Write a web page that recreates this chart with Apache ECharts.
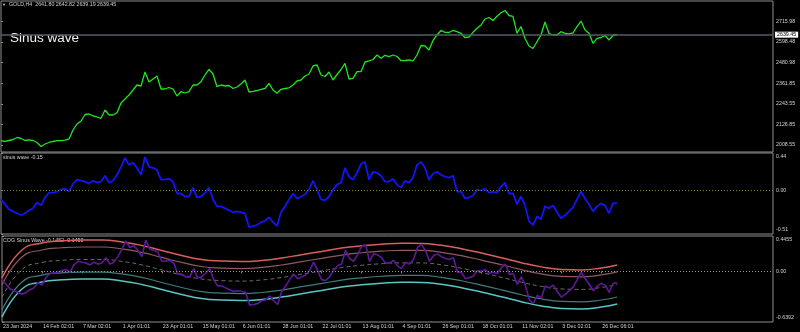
<!DOCTYPE html>
<html><head><meta charset="utf-8">
<script src="https://cdn.jsdelivr.net/npm/echarts@6/dist/echarts.min.js"></script>
<style>html,body{margin:0;padding:0;background:#000}#c{width:800px;height:332px}</style>
</head><body><div id="c"></div>
<script>
const timeLabels = ["23 Jan 2024","14 Feb 02:01","7 Mar 02:01","1 Apr 01:01","23 Apr 01:01","15 May 01:01","6 Jun 01:01","28 Jun 01:01","22 Jul 01:01","13 Aug 01:01","4 Sep 01:01","26 Sep 01:01","18 Oct 01:01","11 Nov 02:01","3 Dec 02:01","26 Dec 06:01"];

const priceValues = [2033.2,2028.6,2034.3,2040.0,2051.5,2045.7,2034.3,2038.3,2034.3,2022.9,
2000.0,2014.3,2022.9,2028.6,2033.2,2033.2,2036.0,2042.9,2094.3,2128.7,
2145.8,2183.0,2185.8,2175.6,2168.7,2161.3,2208.7,2180.1,2180.1,2193.3,
2248.8,2271.6,2294.5,2323.1,2351.7,2346.0,2426.0,2368.9,2386.0,2403.2,
2328.8,2328.8,2337.4,2328.8,2288.8,2313.4,2305.9,2313.4,2351.7,2351.7,
2370.6,2408.9,2441.5,2414.6,2342.0,2351.7,2346.0,2348.8,2331.7,2340.3,
2357.4,2380.3,2311.7,2315.7,2320.2,2327.1,2331.7,2361.4,2323.1,2304.2,
2327.1,2331.7,2335.7,2351.7,2374.6,2380.3,2403.2,2414.6,2460.4,2466.1,
2408.9,2400.3,2426.0,2380.3,2411.7,2440.3,2475.8,2386.0,2390.0,2427.8,
2427.8,2483.2,2489.0,2497.5,2523.3,2504.4,2521.6,2513.5,2523.3,2514.7,
2490.7,2491.8,2494.7,2489.0,2523.3,2577.6,2574.7,2551.9,2606.2,2637.7,
2663.4,2653.1,2651.9,2663.4,2656.5,2647.4,2622.2,2626.2,2653.1,2676.0,
2694.8,2729.2,2737.7,2720.6,2744.6,2765.2,2777.8,2749.2,2743.5,2647.4,
2686.3,2617.6,2574.7,2560.4,2599.3,2637.7,2712.0,2646.2,2637.7,2637.7,
2656.5,2647.4,2643.4,2649.1,2685.1,2717.7,2666.2,2647.4,2590.2,2618.8,
2623.4,2634.8,2609.1,2634.8,2639.45];

const waveValues = [-0.105,-0.163,-0.221,-0.244,-0.267,-0.290,-0.267,-0.232,-0.209,-0.140,
-0.174,-0.082,-0.024,-0.024,-0.012,0.011,0.023,-0.012,0.081,0.127,
0.115,0.104,0.081,0.115,0.092,0.104,0.173,0.092,0.115,0.185,
0.278,0.382,0.301,0.324,0.266,0.185,0.394,0.278,0.266,0.243,
0.127,0.127,0.139,0.104,-0.035,-0.035,-0.070,-0.070,0.034,-0.082,
-0.070,-0.024,0.034,-0.105,-0.186,-0.186,-0.209,-0.232,-0.255,-0.244,
-0.255,-0.267,-0.429,-0.418,-0.406,-0.371,-0.360,-0.313,-0.371,-0.418,
-0.255,-0.186,-0.105,-0.035,-0.093,-0.070,-0.047,0.011,0.115,0.011,
-0.105,-0.116,-0.070,0.011,0.069,0.092,0.266,0.162,0.127,0.208,
0.313,0.336,0.127,0.220,0.208,0.173,0.104,0.104,0.139,0.069,
0.034,0.115,0.092,0.150,0.301,0.336,0.266,0.127,0.197,0.220,
0.185,0.162,0.150,0.173,-0.012,-0.012,-0.093,-0.082,-0.058,0.011,
0.000,0.023,-0.024,-0.012,-0.024,0.046,0.092,-0.035,-0.035,-0.163,
-0.070,-0.174,-0.360,-0.406,-0.302,-0.337,-0.186,-0.209,-0.174,-0.255,
-0.325,-0.290,-0.244,-0.197,-0.105,-0.012,-0.093,-0.163,-0.244,-0.186,
-0.151,-0.174,-0.267,-0.151,-0.145];

const cogTop = [-0.084,0.269,0.357,0.385,0.395,0.395,0.371,0.327,0.263,0.200,0.149,0.129,0.123,0.137,0.168,0.210,0.251,0.293,0.322,0.342,0.353,0.352,0.328,0.285,0.230,0.171,0.109,0.056,0.024,0.018,0.042,0.080];
const cogUpper = [-0.172,0.181,0.269,0.297,0.307,0.307,0.283,0.239,0.175,0.112,0.061,0.041,0.035,0.049,0.080,0.122,0.163,0.205,0.234,0.254,0.265,0.264,0.240,0.197,0.142,0.083,0.021,-0.032,-0.064,-0.070,-0.046,-0.008];
const cogMid = [-0.330,0.023,0.111,0.139,0.149,0.149,0.125,0.081,0.017,-0.046,-0.097,-0.117,-0.123,-0.109,-0.078,-0.036,0.005,0.047,0.076,0.096,0.107,0.106,0.082,0.039,-0.016,-0.075,-0.137,-0.190,-0.222,-0.228,-0.204,-0.166];
const cogLower = [-0.488,-0.135,-0.047,-0.019,-0.009,-0.009,-0.033,-0.077,-0.141,-0.204,-0.255,-0.275,-0.281,-0.267,-0.236,-0.194,-0.153,-0.111,-0.082,-0.062,-0.051,-0.052,-0.076,-0.119,-0.174,-0.233,-0.295,-0.348,-0.380,-0.386,-0.362,-0.324];
const cogBottom = [-0.576,-0.223,-0.135,-0.107,-0.097,-0.097,-0.121,-0.165,-0.229,-0.292,-0.343,-0.363,-0.369,-0.355,-0.324,-0.282,-0.241,-0.199,-0.170,-0.150,-0.139,-0.140,-0.164,-0.207,-0.262,-0.321,-0.383,-0.436,-0.468,-0.474,-0.450,-0.412];

const priceTicks = [2715.98, 2598.48, 2480.98, 2361.85, 2243.55, 2126.85, 2008.55];
const waveTicks = [0.44, 0, -0.51];
const cogTicks = [0.4455, 0, -0.6392];
const lastPrice = 2639.45;
const headerText = "GOLD,H4  2641.80 2642.82 2639.19 2639.45";
const waveTitle = "sinus wave -0.15";
const cogTitle = "COG Sinus Wave -0.1452 -0.1452";

const X_MAX = 193, LABEL_EVERY = 10, BAND_EVERY = 5;
const lastIdx = priceValues.length - 1;
const toXY = arr => arr.map((v, i) => [i, v]);
const bandXY = arr => arr.map((v, k) => [Math.min(k * BAND_EVERY, lastIdx), v]);
const labelIdx = timeLabels.map((_, k) => k * LABEL_EVERY);

const TXT = '#d2d2d2', BORDER = '#8e8e8e', FONT = 'Liberation Sans', FS = 5.3;

const chart = echarts.init(document.getElementById('c'), null, {renderer: 'canvas'});
const grids = [
  {left: 1, right: 27, top: 1, height: 151},
  {left: 1, right: 27, top: 153, height: 81},
  {left: 1, right: 27, top: 236, height: 86}
].map(g => Object.assign(g, {show: true, borderColor: BORDER, borderWidth: 1, backgroundColor: 'transparent'}));

const xAxes = [0, 1, 2].map(i => ({
  type: 'value', gridIndex: i, min: 0, max: X_MAX,
  axisLine: {show: false}, splitLine: {show: false},
  axisTick: i === 2 ? {show: true, customValues: labelIdx, length: 2, lineStyle: {color: BORDER}} : {show: false},
  axisLabel: i === 2 ? {show: true, customValues: labelIdx, formatter: v => timeLabels[Math.round(v / LABEL_EVERY)],
    align: 'left', color: TXT, fontSize: FS, fontFamily: FONT, margin: 2, padding: [0, 0, 0, 1]} : {show: false}
}));

const richEdge = {
  t: {fontSize: FS, fontFamily: FONT, color: TXT, padding: [8, 0, 0, 0]},
  b: {fontSize: FS, fontFamily: FONT, color: TXT, padding: [0, 0, 8, 0]}
};
function yAx(i, min, max, ticks, fmt, edgeAlign) {
  const f = edgeAlign ? (v => v === max ? '{t|' + fmt(v) + '}' : v === min ? '{b|' + fmt(v) + '}' : fmt(v)) : fmt;
  return {type: 'value', gridIndex: i, position: 'right', min: min, max: max, scale: true,
    axisLine: {show: false}, splitLine: {show: false},
    axisTick: {show: true, customValues: ticks, length: 2, lineStyle: {color: BORDER}},
    axisLabel: {show: true, customValues: ticks, formatter: f, color: TXT, fontSize: FS, fontFamily: FONT, margin: 3, rich: richEdge}};
}
const yAxes = [
  yAx(0, 1968.5, 2832.1, priceTicks, v => v.toFixed(2), false),
  yAx(1, -0.51, 0.44, waveTicks, v => v.toFixed(2), true),
  yAx(2, -0.6392, 0.4455, cogTicks, v => (v === 0 ? '0.00' : v.toFixed(4)), true)
];

function line(name, xi, data, color, width, extra) {
  return Object.assign({name: name, type: 'line', xAxisIndex: xi, yAxisIndex: xi, data: data,
    showSymbol: false, symbol: 'none', silent: true, animation: false,
    lineStyle: {color: color, width: width}}, extra || {});
}

const series = [
  line('GOLD', 0, toXY(priceValues), '#1ee61e', 1.3, {
    markLine: {symbol: ['none', 'none'], silent: true, animation: false,
      data: [{yAxis: lastPrice}],
      lineStyle: {color: '#565d66', width: 1.5, type: 'solid'},
      label: {show: true, position: 'end', formatter: lastPrice.toFixed(2), backgroundColor: '#ffffff',
        color: '#000', fontSize: FS, fontFamily: FONT, padding: [1, 2, 0, 2], distance: 2}}
  }),
  line('sinus wave', 1, toXY(waveValues), '#1414f5', 1.8, {
    markLine: {symbol: ['none', 'none'], silent: true, animation: false, data: [{yAxis: 0}],
      lineStyle: {color: '#8a7d28', width: 1, type: [1, 2]}, label: {show: false}}
  }),
  line('top', 2, bandXY(cogTop), '#d8605c', 1.5, {smooth: true}),
  line('upper', 2, bandXY(cogUpper), '#8e5a5e', 1.2, {smooth: true}),
  line('mid', 2, bandXY(cogMid), '#6e6e6e', 1, {smooth: true, lineStyle: {color: '#6e6e6e', width: 1, type: [4, 3]}}),
  line('lower', 2, bandXY(cogLower), '#3f7c7c', 1.2, {smooth: true}),
  line('bottom', 2, bandXY(cogBottom), '#5cc4c4', 1.5, {smooth: true}),
  line('COG', 2, toXY(waveValues), '#6a1888', 1.6, {
    markLine: {symbol: ['none', 'none'], silent: true, animation: false, data: [{yAxis: 0}],
      lineStyle: {color: '#9a9a9a', width: 1, type: [1, 2]}, label: {show: false}}
  }),
  line('COG2', 2, toXY(waveValues), '#2222d8', 1, {lineStyle: {color: '#2222d8', width: 1, type: [1, 2]}})
];

const textStyle = (t, size, fill) => ({text: t, fill: fill || TXT, fontSize: size, fontFamily: FONT});
chart.setOption({
  backgroundColor: '#000000',
  animation: false,
  grid: grids, xAxis: xAxes, yAxis: yAxes, series: series,
  graphic: [
    {type: 'text', left: 2, top: 3, style: textStyle('\u25BC', 4)},
    {type: 'text', left: 9, top: 2.5, style: textStyle(headerText, FS)},
    {type: 'text', left: 10, top: 31, style: textStyle('Sinus wave', 13.5, '#f2f2f2')},
    {type: 'text', left: 3, top: 155.5, style: textStyle(waveTitle, FS)},
    {type: 'text', left: 3, top: 238.3, style: textStyle(cogTitle, FS)}
  ]
});
</script></body></html>
